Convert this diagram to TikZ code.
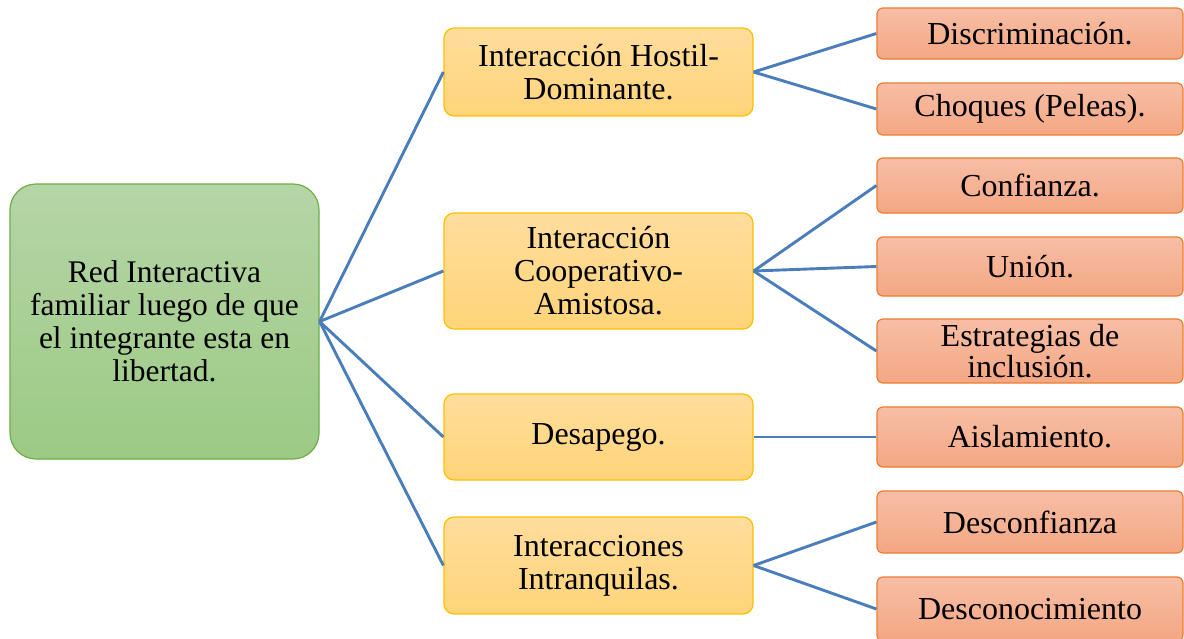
\documentclass[tikz,border=0pt]{standalone}
\usepackage{fontspec}
\setmainfont{Liberation Serif}
\begin{document}
\begin{tikzpicture}[x=1pt,y=-1pt,
  rootbox/.style={draw=rootline, line width=1.2pt, rounded corners=26pt, top color=roottop, bottom color=rootbot,
     minimum width=309pt, minimum height=275pt, align=center, inner sep=0pt,
     font=\fontsize{31.5}{33}\selectfont},
  midbox/.style={draw=midline, line width=1.2pt, rounded corners=10pt, top color=midtop, bottom color=midbot,
     minimum width=309pt, align=center, inner sep=0pt, font=\fontsize{32}{33}\selectfont},
  leafbox/.style={draw=leafline, line width=1.2pt, rounded corners=6pt, top color=leaftop, bottom color=leafbot,
     minimum width=306pt, align=center, inner sep=0pt, font=\fontsize{32}{31}\selectfont},
  link/.style={draw=linkblue, line width=2.9pt}
]
\definecolor{roottop}{HTML}{B5D5A6}
\definecolor{rootbot}{HTML}{9CCA84}
\definecolor{rootline}{HTML}{70AD47}
\definecolor{midtop}{HTML}{FFDD9C}
\definecolor{midbot}{HTML}{FFD479}
\definecolor{midline}{HTML}{FFC000}
\definecolor{leaftop}{HTML}{F7BEA6}
\definecolor{leafbot}{HTML}{F4A783}
\definecolor{leafline}{HTML}{ED7D31}
\definecolor{linkblue}{HTML}{4A7EBB}
\useasboundingbox (0,0) rectangle (1184,638);

\node[rootbox] (root) at (164.5,321.5) {Red Interactiva\\familiar luego de que\\el integrante esta en\\libertad.};

\node[midbox, minimum height=88pt] (m1) at (598.5,72) {Interacción Hostil-\\Dominante.};
\node[midbox, minimum height=116pt] (m2) at (598.5,271) {Interacción\\Cooperativo-\\Amistosa.};
\node[midbox, minimum height=86pt] (m3) at (598.5,437) {Desapego.};
\node[midbox, minimum height=97pt] (m4) at (598.5,565.5) {Interacciones\\Intranquilas.};

\node[leafbox, minimum height=51pt] (l1) at (1030,33.5) {Discriminación.};
\node[leafbox, minimum height=52pt] (l2) at (1030,109) {Choques (Peleas).};
\node[leafbox, minimum height=55pt] (l3) at (1030,185.5) {Confianza.};
\node[leafbox, minimum height=59pt] (l4) at (1030,266.5) {Unión.};
\node[leafbox, minimum height=64pt] (l5) at (1030,351) {Estrategias de\\inclusión.};
\node[leafbox, minimum height=60pt] (l6) at (1030,437) {Aislamiento.};
\node[leafbox, minimum height=62pt] (l7) at (1030,522) {Desconfianza};
\node[leafbox, minimum height=64pt] (l8) at (1030,609) {Desconocimiento};

\foreach \m in {m1,m2,m3,m4} \draw[link] (root.east) -- (\m.west);
\foreach \l in {l1,l2} \draw[link] (m1.east) -- (\l.west);
\foreach \l in {l3,l4,l5} \draw[link] (m2.east) -- (\l.west);
\draw[link] (m3.east) -- (l6.west);
\foreach \l in {l7,l8} \draw[link] (m4.east) -- (\l.west);
\end{tikzpicture}
\end{document}
